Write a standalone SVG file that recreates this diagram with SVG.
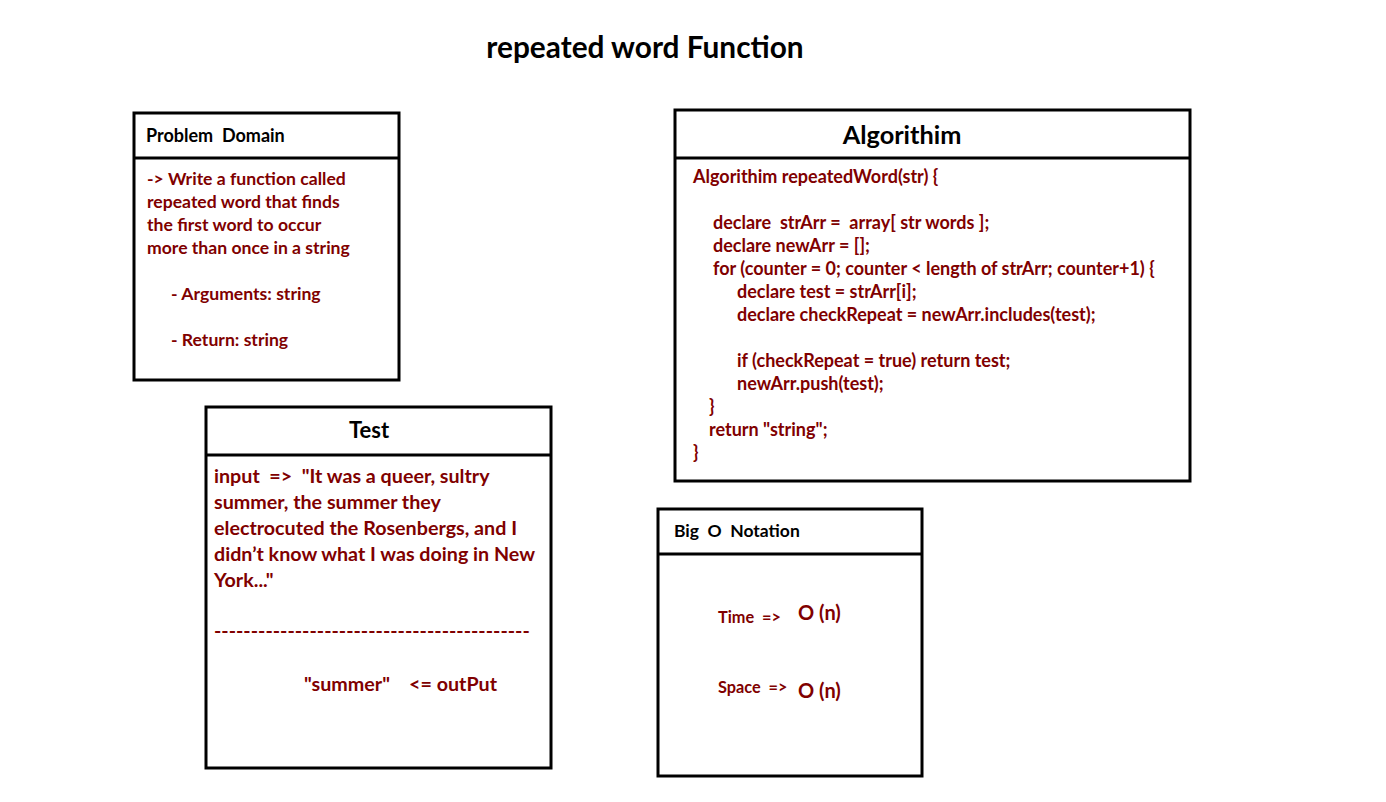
<svg xmlns="http://www.w3.org/2000/svg" width="1386" height="802" viewBox="0 0 1386 802">
<style>
text{font-family:Lato,"Open Sans","Liberation Sans",sans-serif;font-weight:bold;white-space:pre}
.box{fill:#fff;stroke:#000;stroke-width:3}
.div{stroke:#000;stroke-width:3}
.hd{fill:#000}
.bd{fill:#800000}
</style>
<rect width="1386" height="802" fill="#fff"/>
<text x="645" y="58" font-size="29.8" text-anchor="middle" class="hd">repeated word Function</text>

<g id="problem-domain">
<rect class="box" x="134" y="113" width="265" height="267"/>
<line class="div" x1="134" y1="158" x2="399" y2="158"/>
<text x="146" y="142" font-size="18" class="hd" xml:space="preserve">Problem  Domain</text>
<g font-size="17.6">
<text x="147" y="185" class="bd">-&gt; Write a function called</text>
<text x="147" y="208" class="bd">repeated word that finds</text>
<text x="147" y="231" class="bd">the first word to occur</text>
<text x="147" y="254" class="bd">more than once in a string</text>
<text x="171" y="300" class="bd">- Arguments: string</text>
<text x="171" y="346" class="bd">- Return: string</text>
</g>
</g>

<g id="algorithm">
<rect class="box" x="675" y="110" width="515" height="371"/>
<line class="div" x1="675" y1="158" x2="1190" y2="158"/>
<text x="902" y="144" font-size="25.3" text-anchor="middle" class="hd">Algorithim</text>
<g font-size="18">
<text x="693" y="183" class="bd">Algorithim repeatedWord(str) {</text>
<text x="713" y="229" class="bd" xml:space="preserve">declare  strArr =  array[ str words ];</text>
<text x="713" y="252" class="bd">declare newArr = [];</text>
<text x="713" y="275" class="bd">for (counter = 0; counter &lt; length of strArr; counter+1) {</text>
<text x="737" y="298" class="bd">declare test = strArr[i];</text>
<text x="737" y="321" class="bd">declare checkRepeat = newArr.includes(test);</text>
<text x="737" y="367" class="bd">if (checkRepeat = true) return test;</text>
<text x="737" y="390" class="bd">newArr.push(test);</text>
<text x="709" y="413" class="bd">}</text>
<text x="709" y="436" class="bd">return "string";</text>
<text x="693" y="459" class="bd">}</text>
</g>
</g>

<g id="test">
<rect class="box" x="206" y="407" width="345" height="361"/>
<line class="div" x1="206" y1="455" x2="551" y2="455"/>
<text x="369" y="438" font-size="22" text-anchor="middle" class="hd">Test</text>
<g font-size="19.7">
<text x="214" y="483" class="bd" xml:space="preserve">input  =&gt;  "It was a queer, sultry</text>
<text x="214" y="509" class="bd">summer, the summer they</text>
<text x="214" y="535" class="bd">electrocuted the Rosenbergs, and I</text>
<text x="214" y="561" class="bd">didn’t know what I was doing in New</text>
<text x="214" y="587" class="bd">York..."</text>
<text x="214" y="638" class="bd">-------------------------------------------</text>
<text x="304" y="691" class="bd" xml:space="preserve">"summer"    &lt;= outPut</text>
</g>
</g>

<g id="big-o">
<rect class="box" x="658" y="509" width="264" height="267"/>
<line class="div" x1="658" y1="554" x2="922" y2="554"/>
<text x="674" y="537" font-size="17.5" class="hd" xml:space="preserve">Big  O  Notation</text>
<text x="718" y="623" font-size="16.3" class="bd" xml:space="preserve">Time  =&gt;</text>
<text x="798" y="620" font-size="20" class="bd">O (n)</text>
<text x="718" y="693" font-size="16.3" class="bd" xml:space="preserve">Space  =&gt;</text>
<text x="798" y="698" font-size="20" class="bd">O (n)</text>
</g>

<g id="connectors"></g>
</svg>
